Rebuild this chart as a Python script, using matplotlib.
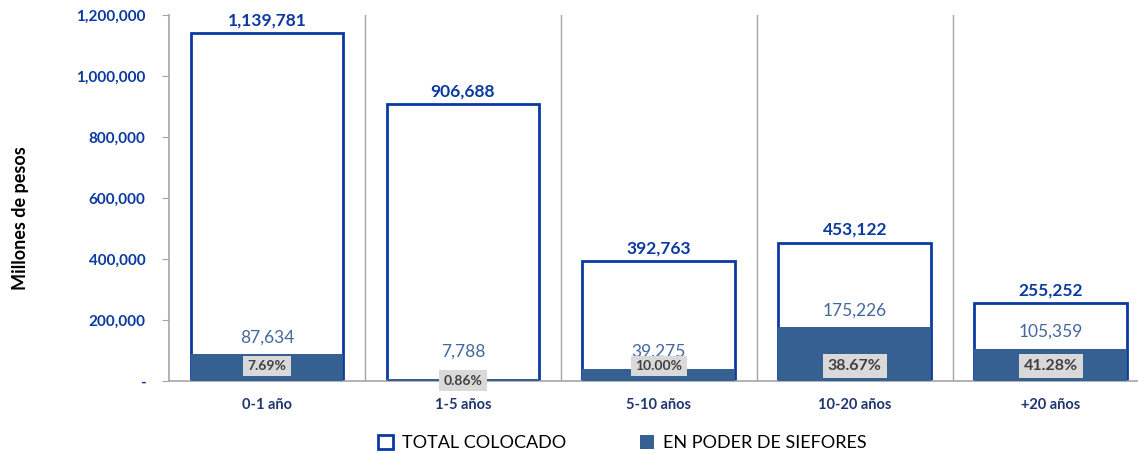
import matplotlib
matplotlib.use("Agg")
import matplotlib.pyplot as plt
from matplotlib.patches import Patch

plt.rcParams['font.family'] = ['Lato', 'DejaVu Sans']

# data
plazos = ["0-1 año", "1-5 años", "5-10 años", "10-20 años", "+20 años"]
total_colocado = [1139781, 906688, 392763, 453122, 255252]
siefores = [87634, 7788, 39275, 175226, 105359]
porcentaje = [7.69, 0.86, 10.00, 38.67, 41.28]

azul = "#0A3AA0"
relleno = "#376092"
gris = "#A6A6A6"

fig = plt.figure(figsize=(11.38, 4.54), dpi=100)
ax = fig.add_axes([0.1485, 0.161, 0.861, 0.806])

x = range(len(plazos))
ax.bar(x, total_colocado, width=0.78, facecolor="white", edgecolor=azul, linewidth=2, zorder=2)
ax.bar(x, siefores, width=0.78, facecolor=relleno, edgecolor="none", zorder=3)

for i in x:
    ax.annotate(f"{total_colocado[i]:,}", (i, total_colocado[i]), xytext=(0, 5),
                textcoords="offset pixels", ha="center", va="bottom",
                fontsize=12.5, fontweight="bold", color=azul, zorder=5)
    ax.annotate(f"{siefores[i]:,}", (i, max(siefores[i], 40000)), xytext=(0, 17),
                textcoords="offset pixels", ha="center", va="center",
                fontsize=12.5, color="#44689E", zorder=4)
    ypct = 0 if porcentaje[i] < 1 else 49000
    ax.text(i, ypct, f"{porcentaje[i]:.2f}%", ha="center", va="center",
            fontsize=11.5 if porcentaje[i] >= 20 else 10, fontweight="bold", color="#404040",
            bbox=dict(boxstyle="square,pad=0.32", facecolor="#D9D9D9", edgecolor="none"),
            zorder=6)

ax.set_xlim(-0.5, 4.5)
ax.set_ylim(0, 1200000)
ax.set_yticks(range(0, 1200001, 200000))
ax.set_yticklabels(["-"] + [f"{v:,}" for v in range(200000, 1200001, 200000)])
ax.set_xticks(list(x))
ax.set_xticklabels(plazos)
for lab in ax.get_yticklabels():
    lab.set_fontweight("bold")
    lab.set_color(azul)
    lab.set_fontsize(11)
for lab in ax.get_xticklabels():
    lab.set_fontweight("bold")
    lab.set_color("#1F3570")
    lab.set_fontsize(10.5)
ax.tick_params(axis="x", length=0, pad=12)
ax.tick_params(axis="y", length=5, color=gris, pad=12)

for sep in [0.5, 1.5, 2.5, 3.5]:
    ax.axvline(sep, color=gris, linewidth=1, zorder=1)
for s in ["top", "right"]:
    ax.spines[s].set_visible(False)
for s in ["left", "bottom"]:
    ax.spines[s].set_color(gris)
    ax.spines[s].set_linewidth(1.2)

fig.text(0.018, 0.52, "Millones de pesos", rotation=90, ha="center", va="center",
         fontsize=13, fontweight="bold", color="black")

handles = [Patch(facecolor="white", edgecolor=azul, linewidth=2, label="TOTAL COLOCADO"),
           Patch(facecolor=relleno, edgecolor="none", label="EN PODER DE SIEFORES")]
fig.legend(handles=handles, loc="center left", bbox_to_anchor=(0.318, 0.024), ncol=2,
           frameon=False, fontsize=13, handlelength=0.8, handleheight=0.8,
           handletextpad=0.5, columnspacing=4.1)

fig.savefig("out.png", dpi=100)
